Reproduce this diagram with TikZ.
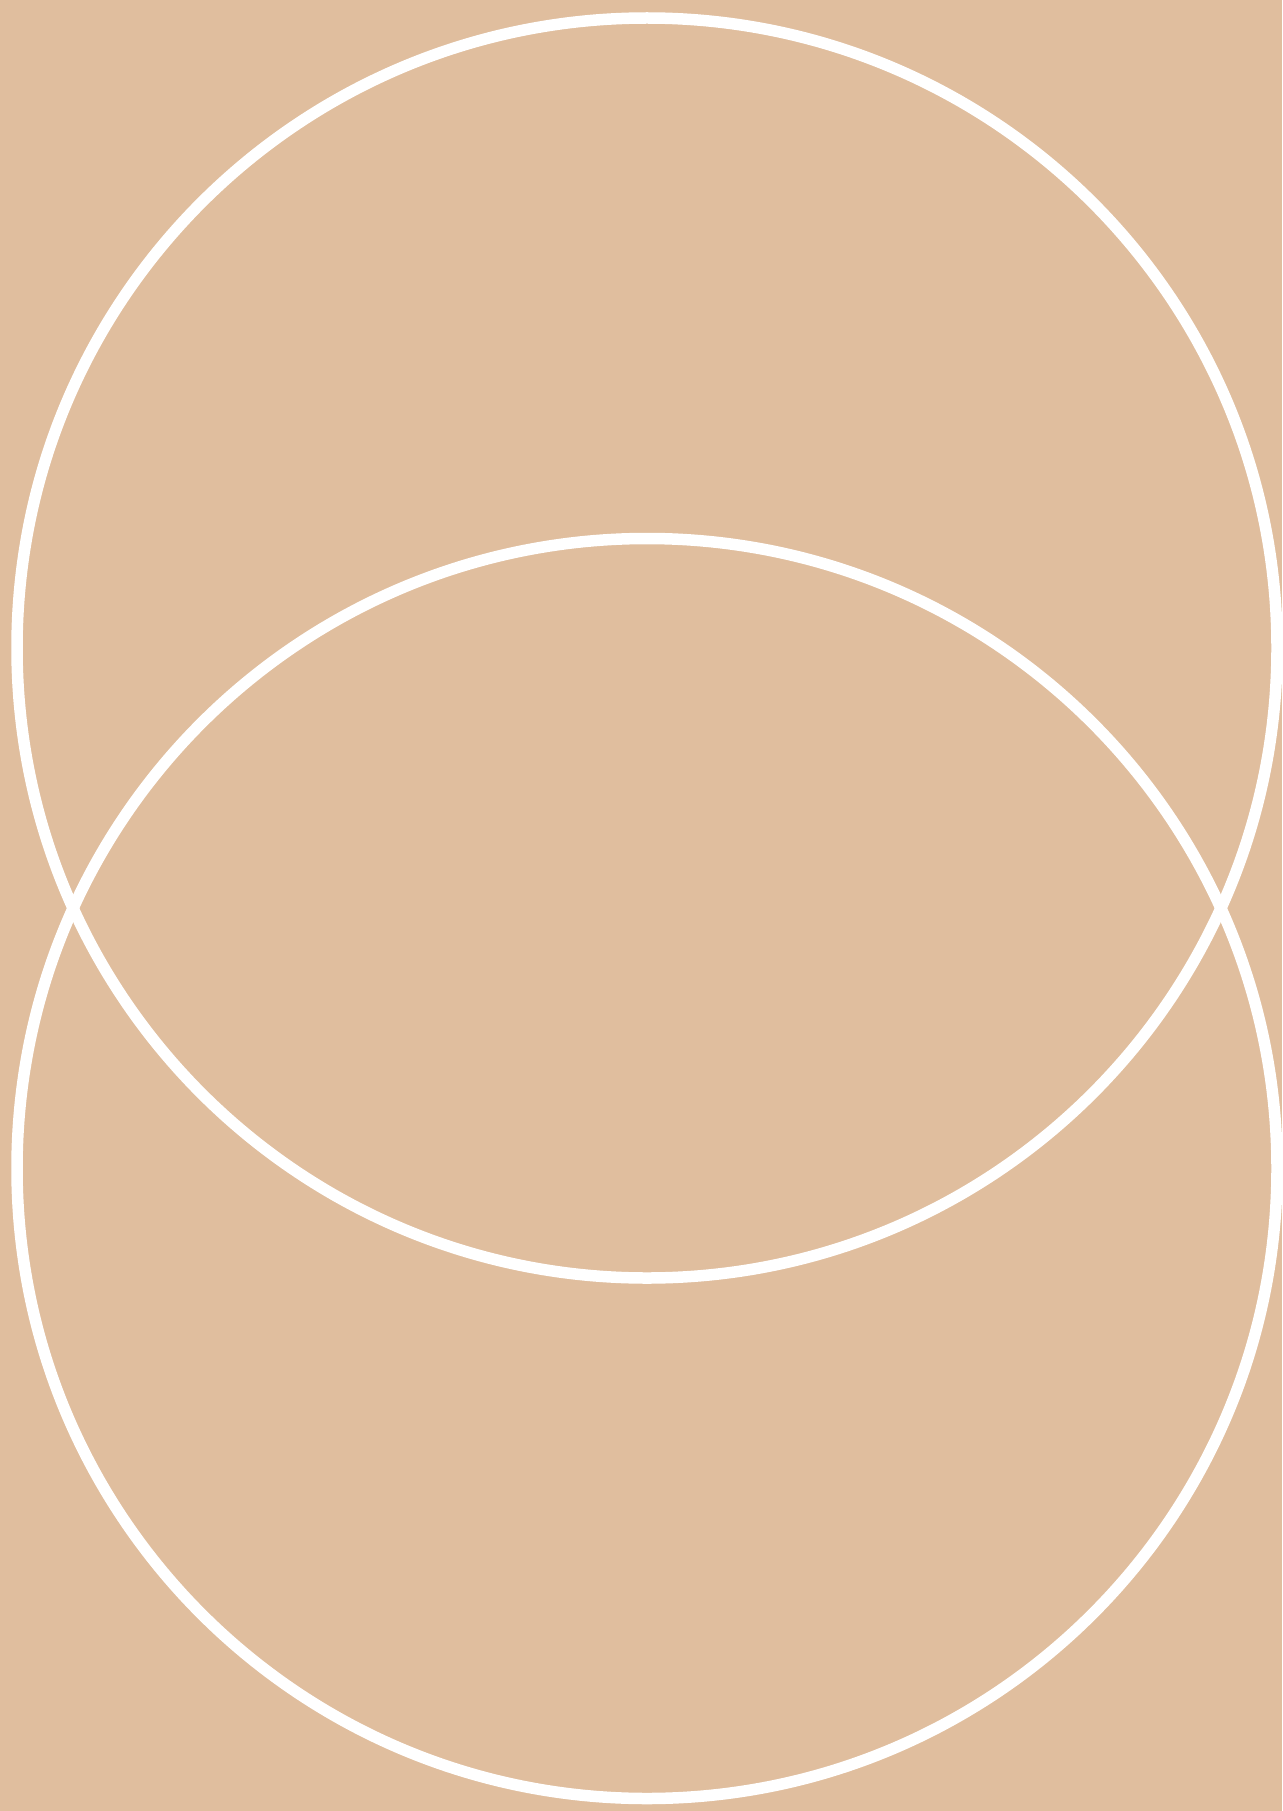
\documentclass[tikz,border=0pt]{standalone}
\definecolor{bgtan}{RGB}{224,190,158}
\tikzset{ring/.style={draw=white,line width=11.5pt}}
\begin{document}
\begin{tikzpicture}[x=1pt,y=-1pt]
\useasboundingbox (0,0) rectangle (1282,1811);
\clip (0,0) rectangle (1282,1811);
\fill[bgtan] (0,0) rectangle (1282,1811);
\coordinate (topc) at (647,648);
\coordinate (botc) at (647,1168.5);
\draw[ring] (topc) circle[radius=630];
\draw[ring] (botc) circle[radius=630];
\end{tikzpicture}
\end{document}
